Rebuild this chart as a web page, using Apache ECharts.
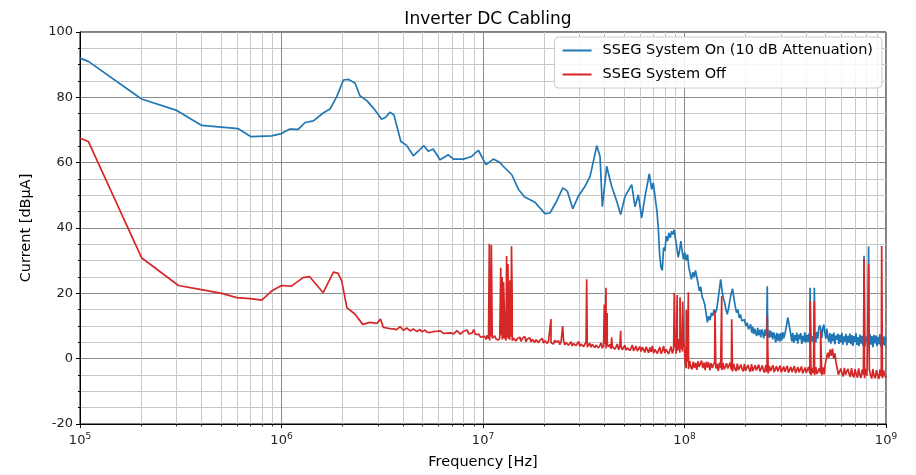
<!DOCTYPE html>
<html>
<head>
<meta charset="utf-8">
<title>Inverter DC Cabling</title>
<script src="https://cdn.jsdelivr.net/npm/echarts@6/dist/echarts.min.js"></script>
<style>
    html, body { margin:0; padding:0; background:#fff; }
    #chart { width:916px; height:475px; }
</style>
</head>
<body>
<div id="chart"></div>
<script>
// --- data -------------------------------------------------------------
const seriesNames = ['SSEG System On (10 dB Attenuation)', 'SSEG System Off'];
const decadeTicks = [1e5, 1e6, 1e7, 1e8, 1e9];
const minorMultipliers = [2, 3, 4, 5, 6, 7, 8, 9];

// System On: smooth part, [Hz, dBuA]
const onPoints = [
    [1.0e5, 92.0], [1.1e5, 91.0], [2.02e5, 79.5], [3.02e5, 76.0], [4.02e5, 71.4],
    [6.1e5, 70.4], [7.03e5, 68.0], [8.93e5, 68.2], [1.0e6, 68.9], [1.1e6, 70.3],
    [1.21e6, 70.2], [1.31e6, 72.3], [1.44e6, 72.8], [1.61e6, 75.2], [1.74e6, 76.4],
    [1.88e6, 80.2], [2.03e6, 85.3], [2.15e6, 85.5], [2.32e6, 84.3], [2.45e6, 80.5],
    [2.65e6, 79.0], [2.86e6, 76.7], [3.14e6, 73.3], [3.30e6, 74.0], [3.45e6, 75.4],
    [3.61e6, 74.7], [3.91e6, 66.5], [4.18e6, 65.3], [4.51e6, 62.1], [4.77e6, 63.5],
    [5.09e6, 65.2], [5.35e6, 63.5], [5.66e6, 64.2], [6.12e6, 60.9], [6.73e6, 62.4],
    [7.13e6, 61.1], [7.98e6, 61.1], [8.79e6, 61.9], [9.48e6, 63.8], [1.035e7, 59.4],
    [1.125e7, 61.1], [1.21e7, 60.1], [1.26e7, 58.9], [1.39e7, 56.3], [1.50e7, 51.8],
    [1.61e7, 49.5], [1.81e7, 47.9], [2.03e7, 44.4], [2.15e7, 44.6], [2.32e7, 48.2],
    [2.49e7, 52.3], [2.62e7, 51.3], [2.79e7, 45.9], [2.97e7, 49.7], [3.21e7, 52.8],
    [3.40e7, 55.8], [3.67e7, 65.2], [3.81e7, 61.9], [3.91e7, 46.5], [4.11e7, 58.9],
    [4.35e7, 52.8], [4.61e7, 48.2], [4.82e7, 44.1], [5.07e7, 49.7], [5.47e7, 53.3],
    [5.68e7, 46.5], [5.90e7, 50.2], [6.13e7, 43.1], [6.37e7, 49.7], [6.69e7, 56.6],
    [6.87e7, 51.8], [7.0e7, 53.8]
];
// System On: sweep samples 73 MHz .. 211 MHz
const onSweepA = [
    45, 40, 32, 28, 27, 34, 33, 37.5, 36, 38.5,
    37, 39, 38, 39.5, 36.5, 34, 31, 33, 36, 33,
    30.4, 32.5, 30, 31.9, 28, 26, 24.3, 26.5, 25, 27,
    26.8, 23, 20.7, 22, 19, 18, 16.6, 14, 11.1, 13,
    11.8, 14, 13.1, 15, 14, 15.1, 18, 21, 24.3, 21,
    18.5, 17.2, 15, 13.6, 15.5, 18, 20, 21.4, 18.5, 16,
    14.1, 15, 12.5, 13.5, 11.5, 11.1, 12, 10, 11, 9,
    9.5
];
// System On: sweep samples 213 MHz .. 1 GHz
const onSweepB = [
    10.5, 8, 9.8, 7.5, 9.2, 8.6, 6.9, 9.4, 7.2, 8.8,
    6.5, 9, 7.8, 6.2, 8.9, 7, 9.5, 8.2, 6.3, 8.7,
    6.6, 8.3, 5.9, 8, 6.8, 4.9, 7.9, 5.5, 7.6, 5.2,
    7.8, 5.6, 8.1, 6.2, 7.4, 8.9, 10.5, 12.6, 11, 9.2,
    7.5, 5.3, 7.9, 4.8, 7.2, 5.5, 8, 4.6, 7.4, 5.9,
    7.8, 4.5, 7, 5.2, 8.1, 4.9, 7.3, 5.1, 7.7, 4.8,
    7.5, 5.3, 6.9, 4.7, 7.8, 5, 8.2, 6.1, 9.4, 10.2,
    8.8, 6.3, 9.5, 10.4, 8, 6.1, 9.2, 6.5, 5.2, 7.8,
    4.6, 7.5, 5.4, 8, 4.4, 7.1, 5.8, 7.6, 4.5, 7.3,
    5, 7.9, 4.3, 6.8, 5.2, 7.6, 4.1, 7, 4.8, 7.7,
    4.4, 7.2, 3.9, 6.9, 5.1, 7.8, 4.2, 6.6, 3.8, 7.4,
    4.6, 7, 4, 7.5, 3.7, 6.8, 4.9, 7.2, 3.6, 7.6,
    4.3, 6.9, 3.5, 7.3, 4.7, 7.1, 3.8, 6.7, 4.4, 7.5,
    3.6, 7, 4.2, 6.8, 3.9, 6.5
];
const onSpikes = [[2.575e8, 22.2], [4.2e8, 21.7], [4.41e8, 21.7], [7.78e8, 31.5], [8.2e8, 34.3]];

// System Off: smooth part
const offPoints = [
    [1.0e5, 67.5], [1.1e5, 66.5], [2.02e5, 30.9], [3.08e5, 22.4], [3.94e5, 21.2],
    [5.05e5, 20.0], [6.0e5, 18.7], [7.0e5, 18.4], [7.98e5, 17.9], [8.93e5, 20.7],
    [1.0e6, 22.4], [1.12e6, 22.2], [1.28e6, 24.8], [1.38e6, 25.1], [1.61e6, 20.2],
    [1.81e6, 26.5], [1.91e6, 26.1], [1.99e6, 23.8], [2.11e6, 15.6], [2.32e6, 13.6],
    [2.53e6, 10.5], [2.75e6, 11.1], [2.97e6, 10.8], [3.1e6, 12.1]
];
// System Off: sweep 3.2 MHz .. 9.9 MHz
const offSweepA = [
    9.6, 9.0, 9.4, 8.8, 9.2, 9.7, 9.1, 9.5, 8.9, 9.3,
    9.8, 9.2, 8.7, 9.0, 9.4, 8.9, 8.5, 8.8, 9.1, 8.6,
    8.3, 8.7, 8.9, 8.2, 8.5, 8.8, 8.1, 8.4, 8.0, 8.6,
    8.3, 7.9, 8.4, 8.1, 8.5, 8.0, 7.7, 8.2, 7.8, 7.4,
    7.9, 8.3, 7.6, 8.0, 8.6, 8.1, 7.5, 7.9, 8.4, 7.8,
    8.8, 7.6, 7.2, 7.8, 8.9, 7.4, 6.9, 7.5, 6.6, 6.2
];
// System Off: sweep 10.2 MHz .. 99 MHz
const offSweepB = [
    6.8, 5.9, 7.2, 6.1, 5.6, 6.9, 6.3, 5.8, 7.0, 6.0,
    6.6, 5.7, 6.4, 7.1, 5.9, 6.2, 6.8, 5.6, 6.5, 6.0,
    5.8, 6.7, 5.5, 6.3, 6.9, 5.4, 6.1, 5.9, 6.6, 5.3,
    6.2, 5.6, 6.8, 5.2, 6.0, 5.7, 6.4, 5.1, 5.9, 6.3,
    5.0, 5.8, 6.1, 4.9, 5.6, 5.3, 6.2, 4.8, 5.5, 5.9,
    4.7, 5.4, 6.0, 4.9, 5.2, 4.5, 5.7, 5.0, 4.6, 5.5,
    4.3, 5.1, 4.8, 5.6, 4.2, 4.9, 5.3, 4.1, 4.7, 5.2,
    3.9, 4.6, 5.0, 4.0, 4.4, 5.3, 3.8, 4.5, 4.9, 3.7,
    4.3, 5.1, 3.6, 4.2, 4.7, 3.5, 4.4, 5.0, 3.4, 4.1,
    4.6, 3.3, 4.0, 4.8, 3.2, 3.9, 4.5, 3.1, 4.3, 3.6,
    4.4, 3.0, 3.7, 4.2, 2.9, 3.6, 4.5, 2.8, 3.5, 4.0,
    2.7, 3.4, 4.1, 2.6, 3.3, 3.9, 2.5, 3.2, 4.2, 2.4,
    3.1, 3.8, 2.3, 3.0, 3.7, 2.2, 3.5, 2.9, 1.9, 3.6,
    2.6, 1.8, 3.4, 2.1, 3.9, 1.7, 2.8, 3.3, 1.6, 2.7,
    3.5, 1.5, 2.4, 3.8, 1.7, 2.9, 3.2, 1.4, 2.6, 3.7,
    1.6, 2.8, 3.4, 1.5, 2.5, 3.9, 1.8, 3.0, 2.2, 3.5
];
// System Off: sweep 100.5 MHz .. 1 GHz
const offSweepC = [
    -0.5, -2.9, -1.0, -3.2, -0.7, -2.6, -3.3, -0.9, -2.8, -1.3,
    -3.4, -0.8, -2.5, -3.1, -0.6, -2.9, -1.2, -3.5, -0.9, -2.7,
    -1.1, -3.6, -1.4, -2.8, -3.4, -1.0, -3.0, -1.6, -3.7, -1.2,
    -2.9, -3.5, -1.3, -3.3, -3.9, -1.4, -3.0, -3.6, -1.2, -3.4,
    -3.9, -1.6, -3.1, -3.8, -1.5, -3.5, -4.0, -1.8, -3.2, -3.9,
    -1.6, -3.7, -4.1, -1.9, -3.3, -4.0, -1.7, -3.8, -4.2, -2.0,
    -3.6, -4.2, -1.8, -3.9, -4.4, -2.1, -3.6, -4.3, -1.9, -4.0,
    -4.5, -2.2, -3.8, -4.4, -2.0, -4.1, -4.6, -2.3, -3.9, -4.5,
    -2.1, -4.2, -4.7, -2.4, -4.0, -4.6, -2.2, -4.3, -4.8, -2.5,
    -4.1, -4.7, -2.3, -4.4, -4.9, -2.6, -4.2, -4.8, -2.4, -4.5,
    -5.0, -2.7, -4.3, -4.9, -2.5, -4.6, -5.1, -2.8, -4.4, -5.0,
    -2.6, -4.7, -5.2, -2.9, -4.5, -5.1, -2.7, -4.8, -1.5, 0.2,
    1.8, 0.3, 2.8, 0.9, 3.1, 0.0, 1.6, -1.2, -3.0, -4.9,
    -5.3, -3.0, -4.6, -5.4, -2.8, -4.9, -5.5, -3.1, -4.7, -5.6,
    -2.9, -5.0, -5.7, -3.2, -4.8, -5.8, -3.0, -5.1, -5.9, -3.3,
    -4.9, -6.0, -3.1, -5.2, -5.8, -3.4, -5.0, -6.1, -3.2, -5.3,
    -6.0, -3.5, -5.1, -6.2, -3.3, -5.4, -6.0, -3.6, -5.2, -5.9
];
const offSpikes = [
    [1.075e7, 35.2], [1.09e7, 28], [1.10e7, 34.8],
    [1.225e7, 27.8], [1.235e7, 14], [1.245e7, 25], [1.255e7, 19], [1.265e7, 23.5],
    [1.28e7, 12], [1.31e7, 31.4], [1.32e7, 21], [1.33e7, 29], [1.345e7, 17],
    [1.36e7, 24], [1.385e7, 34.4], [1.395e7, 20],
    [2.175e7, 12.1], [2.486e7, 10.0], [3.27e7, 24.3],
    [4.0e7, 16.6], [4.08e7, 21.7], [4.13e7, 14], [4.35e7, 6.5], [4.82e7, 8.5],
    [8.9e7, 20.2], [9.05e7, 8], [9.2e7, 19.5], [9.35e7, 6], [9.5e7, 18.8],
    [9.65e7, 7], [9.8e7, 17.5], [9.95e7, 5], [1.02e8, 15], [1.045e8, 20.3],
    [1.416e8, 14.6], [1.53e8, 19.2], [1.715e8, 12.1], [2.575e8, 13.1],
    [4.2e8, 17.6], [4.41e8, 17.6], [4.74e8, 8.5],
    [7.78e8, 30.5], [8.2e8, 29], [9.52e8, 34.5]
];

// sweep samples sit on a log-spaced frequency grid between f0 and f1
function sweep(f0, f1, vals){
    const n = vals.length;
    return vals.map((v, i) => [f0 * Math.pow(f1 / f0, i / (n - 1)), v]);
}
function byFreq(a, b){ return a[0] - b[0]; }

const onData = onPoints
    .concat(sweep(7.3e7, 2.11e8, onSweepA))
    .concat(sweep(2.13e8, 1e9, onSweepB))
    .concat(onSpikes)
    .sort(byFreq);
const offData = offPoints
    .concat(sweep(3.2e6, 9.9e6, offSweepA))
    .concat(sweep(1.02e7, 9.9e7, offSweepB))
    .concat(sweep(1.005e8, 1e9, offSweepC))
    .concat(offSpikes)
    .sort(byFreq);

const minorFreqs = [];
decadeTicks.slice(0, -1).forEach((d) => {
    minorMultipliers.forEach((m) => minorFreqs.push([d * m, 0]));
});

const font = 'DejaVu Sans';
const chart = echarts.init(document.getElementById('chart'));
chart.setOption({
    animation:false,
    backgroundColor:'#fff',
    textStyle:{ fontFamily:font },
    title:{
        text:'Inverter DC Cabling',
        left:483,
        textAlign:'center',
        top:6,
        textStyle:{ fontFamily:font, fontSize:17, fontWeight:'normal', color:'#000' }
    },
    legend:{
        data:seriesNames,
        orient:'vertical',
        right:34,
        top:37,
        itemWidth:29,
        itemHeight:2,
        itemGap:9,
        icon:'rect',
        padding:[6, 9, 6, 8],
        backgroundColor:'rgba(255,255,255,0.85)',
        borderColor:'#cccccc',
        borderWidth:1,
        borderRadius:4,
        textStyle:{ fontFamily:font, fontSize:14.5, color:'#000', padding:[0, 0, 0, 6] }
    },
    grid:{
        left:80,
        right:30,
        top:32,
        bottom:50,
        show:true,
        borderColor:'#000',
        borderWidth:1,
        backgroundColor:'transparent'
    },
    xAxis:{
        type:'log',
        logBase:10,
        min:1e5,
        max:1e9,
        name:'Frequency [Hz]',
        nameLocation:'middle',
        nameGap:31,
        nameTextStyle:{ fontFamily:font, fontSize:14.5, color:'#000' },
        axisLine:{ onZero:false, lineStyle:{ color:'#000', width:1 } },
        axisTick:{ length:4, lineStyle:{ color:'#000' } },
        axisLabel:{
            color:'#222',
            fontFamily:font,
            fontSize:13,
            margin:8,
            formatter:(v) => '10{s|' + Math.round(Math.log10(v)) + '}',
            rich:{ s:{ fontSize:9, fontFamily:font, color:'#222', padding:[0, 0, 9, 0] } }
        },
        splitLine:{ show:true, lineStyle:{ color:'#8a8a8a', width:1 } }
    },
    yAxis:{
        type:'value',
        min:-20,
        max:100,
        interval:20,
        name:'Current [dBµA]',
        nameLocation:'middle',
        nameGap:46,
        nameTextStyle:{ fontFamily:font, fontSize:14.5, color:'#000' },
        axisLine:{ show:true, onZero:false, lineStyle:{ color:'#000', width:1 } },
        axisTick:{ show:true, length:4, lineStyle:{ color:'#000' } },
        minorTick:{ show:true, splitNumber:4, length:2, lineStyle:{ color:'#000' } },
        axisLabel:{ color:'#222', fontFamily:font, fontSize:13, margin:7 },
        splitLine:{ show:true, lineStyle:{ color:'#8a8a8a', width:1 } },
        minorSplitLine:{ show:true, lineStyle:{ color:'#c8c8c8', width:1 } }
    },
    series:[
        {
            // minor log grid lines (2..9 of each decade) with their small ticks
            type:'custom',
            silent:true,
            clip:false,
            z:1,
            data:minorFreqs,
            renderItem:(params, api) => {
                const top = api.coord([api.value(0), 100]);
                const bot = api.coord([api.value(0), -20]);
                const x = Math.round(top[0]) + 0.5;
                return {
                    type:'group',
                    children:[
                        { type:'line', shape:{ x1:x, y1:top[1], x2:x, y2:bot[1] },
                          style:{ stroke:'#c8c8c8', lineWidth:1 } },
                        { type:'line', shape:{ x1:x, y1:bot[1], x2:x, y2:bot[1] + 2.5 },
                          style:{ stroke:'#000', lineWidth:0.8 } }
                    ]
                };
            }
        },
        {
            name:seriesNames[0],
            type:'line',
            showSymbol:false,
            z:3,
            color:'#1f77b4',
            lineStyle:{ width:1.7, color:'#1f77b4' },
            data:onData
        },
        {
            name:seriesNames[1],
            type:'line',
            showSymbol:false,
            z:4,
            color:'#d62728',
            lineStyle:{ width:1.7, color:'#d62728' },
            data:offData
        }
    ]
});
window.addEventListener('resize', chart.resize);
</script>
</body>
</html>
